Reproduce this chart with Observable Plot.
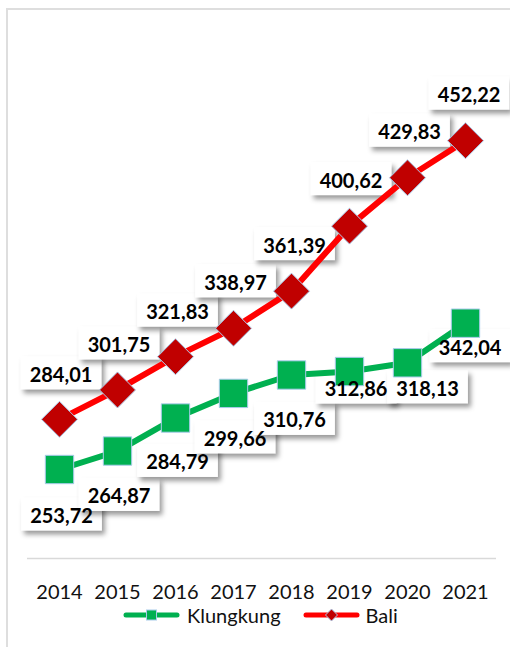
<!DOCTYPE html>
<html>
<head>
<meta charset="utf-8">
<script src="https://cdn.jsdelivr.net/npm/d3@7"></script>
<script src="https://cdn.jsdelivr.net/npm/@observablehq/plot@0.6"></script>
<style>
  html, body { margin: 0; padding: 0; background: #fff; overflow: hidden; }
  body { width: 510px; height: 647px; position: relative; font-family: Lato, "Open Sans", sans-serif; }
  #frame { position: absolute; left: 6px; top: 8px; width: 600px; height: 700px; border: 2px solid #dedede; box-sizing: border-box; }
  #chart { position: absolute; left: 0; top: 0; }
  #legend { position: absolute; left: 123px; top: 606px; display: flex; align-items: center; font-size: 20px; line-height: 18px; color: #111; height: 18px; }
  #legend .sw { display: block; }
</style>
</head>
<body>
<div id="frame"></div>
<div id="chart"></div>
<div id="legend"></div>
<script>
// ---- data ----
const years = [2014, 2015, 2016, 2017, 2018, 2019, 2020, 2021];
const klungkung = [253.72, 264.87, 284.79, 299.66, 310.76, 312.86, 318.13, 342.04];
const bali = [284.01, 301.75, 321.83, 338.97, 361.39, 400.62, 429.83, 452.22];
const seriesNames = ["Klungkung", "Bali"];

// label nudges (pixels) for the data labels
const klungLabelDx = [2, 1.5, 2, 1.5, 3, 6.5, 20, 4.5];
const klungLabelDy = [47, 46, 45, 46, 46, 18, 26.5, 25];
const baliLabelDx = [1.5, 1.5, 2, 2, 3, 1.5, 2, 3.5];
const baliLabelDy = [-44, -44.5, -44, -45, -45, -45, -45, -45];

const green = "#00B050", red = "#FF0000", darkRed = "#C00000", markerStroke = "#A9CBEA";
const fmt = v => v.toFixed(2).replace(".", ",");

const kData = years.map((year, i) => ({year, value: klungkung[i], series: seriesNames[0]}));
const bData = years.map((year, i) => ({year, value: bali[i], series: seriesNames[1]}));

const labelMarks = [];
kData.forEach((d, i) => labelMarks.push(Plot.text([d], {
  x: "year", y: "value", text: dd => fmt(dd.value),
  dx: klungLabelDx[i], dy: klungLabelDy[i],
  fontSize: 20, fontWeight: "bold", fill: "#000"
})));
bData.forEach((d, i) => labelMarks.push(Plot.text([d], {
  x: "year", y: "value", text: dd => fmt(dd.value),
  dx: baliLabelDx[i], dy: baliLabelDy[i],
  fontSize: 20, fontWeight: "bold", fill: "#000"
})));

const chart = Plot.plot({
  width: 510,
  height: 600,
  marginLeft: 27,
  marginRight: 14,
  marginTop: 61,
  marginBottom: 42,
  style: { fontFamily: "Lato, 'Open Sans', sans-serif", background: "transparent", overflow: "visible" },
  x: { type: "point", domain: years, padding: 0.5, axis: null, label: null },
  y: { domain: [200, 500], axis: null },
  marks: [
    Plot.ruleY([200], { stroke: "#d9d9d9", strokeWidth: 1.5 }),
    Plot.axisX({ tickSize: 0, tickPadding: 26, fontSize: 20, color: "#111", label: null, tickFormat: d => String(d) }),
    Plot.line(kData, { x: "year", y: "value", stroke: green, strokeWidth: 6, strokeLinecap: "round", strokeLinejoin: "round" }),
    Plot.line(bData, { x: "year", y: "value", stroke: red, strokeWidth: 6, strokeLinecap: "round", strokeLinejoin: "round" }),
    Plot.dot(kData, { x: "year", y: "value", symbol: "square", r: 16, fill: green, stroke: markerStroke, strokeWidth: 1 }),
    Plot.dot(bData, { x: "year", y: "value", symbol: "diamond2", r: 16.2, fill: darkRed, stroke: markerStroke, strokeWidth: 1 }),
    ...labelMarks
  ]
});
document.getElementById("chart").appendChild(chart);

// white label boxes with drop shadow, placed beneath the lines
const svgNS = "http://www.w3.org/2000/svg";
const defs = document.createElementNS(svgNS, "defs");
defs.innerHTML = `<filter id="shadow" x="-30%" y="-30%" width="160%" height="180%">
  <feDropShadow dx="3" dy="4" stdDeviation="2.5" flood-color="#000" flood-opacity="0.4"/></filter>`;
chart.insertBefore(defs, chart.firstChild);
const boxG = document.createElementNS(svgNS, "g");
const firstLine = chart.querySelector('g[aria-label="line"]');
chart.insertBefore(boxG, firstLine);
chart.querySelectorAll('g[aria-label="text"] text').forEach(t => {
  const b = t.getBBox();
  const m = t.getCTM();
  const w = b.width + 18, h = 33;
  const cx = m.e + b.x + b.width / 2, cy = m.f + b.y + b.height / 2 - 1;
  const r = document.createElementNS(svgNS, "rect");
  r.setAttribute("x", cx - w / 2);
  r.setAttribute("y", cy - h / 2);
  r.setAttribute("width", w);
  r.setAttribute("height", h);
  r.setAttribute("fill", "#fff");
  r.setAttribute("filter", "url(#shadow)");
  boxG.appendChild(r);
});

// legend
const legend = document.getElementById("legend");
function swatch(color, shape) {
  return `<svg class="sw" width="57" height="16" viewBox="0 0 57 16">
    <line x1="3" y1="8" x2="54" y2="8" stroke="${color}" stroke-width="5" stroke-linecap="round"/>
    ${shape === "square"
      ? `<rect x="23.5" y="3" width="10" height="10" fill="${green}" stroke="${markerStroke}" stroke-width="1"/>`
      : `<path d="M28.5 2 L34.5 8 L28.5 14 L22.5 8 Z" fill="${darkRed}" stroke="${markerStroke}" stroke-width="1"/>`}
  </svg>`;
}
legend.innerHTML =
  swatch(green, "square") + `<span style="margin-left:7px;margin-right:22px">${seriesNames[0]}</span>` +
  swatch(red, "diamond") + `<span style="margin-left:6px">${seriesNames[1]}</span>`;
</script>
</body>
</html>
